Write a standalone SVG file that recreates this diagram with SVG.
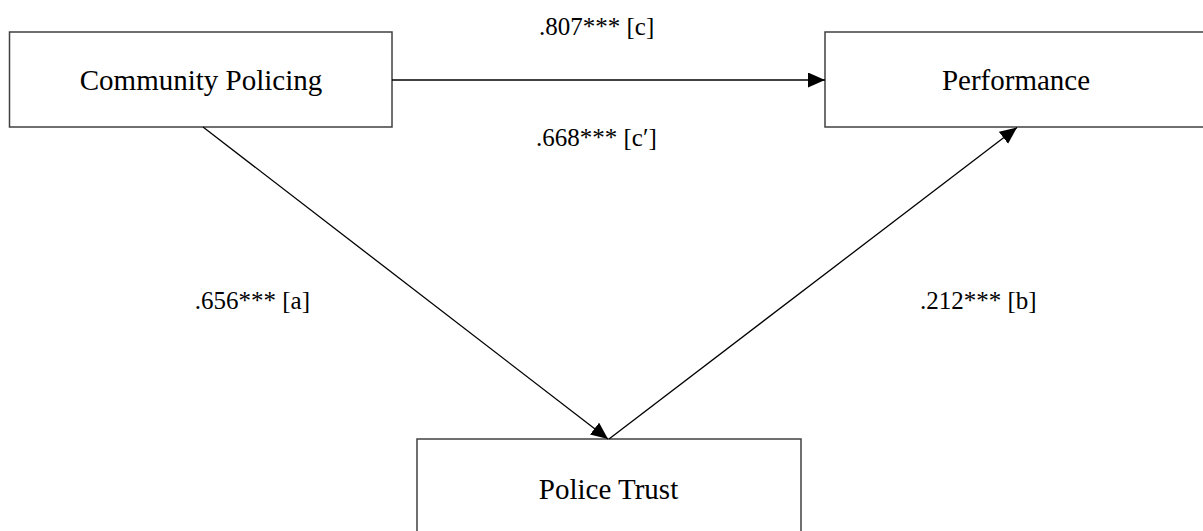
<svg xmlns="http://www.w3.org/2000/svg" width="1203" height="531" viewBox="0 0 1203 531">
<style>
.box{fill:#ffffff;stroke:#404040;stroke-width:1.5}
.lbl{font-family:"Liberation Serif","Times New Roman",serif;font-size:29px;fill:#000;text-anchor:middle}
.coef{font-family:"Liberation Serif","Times New Roman",serif;font-size:25px;fill:#000}
.conn{stroke:#000;stroke-width:1.3;fill:none;marker-end:url(#arr)}
</style>
<defs>
<marker id="arr" markerUnits="userSpaceOnUse" markerWidth="18" markerHeight="16" refX="17" refY="7.5" orient="auto">
<path d="M0,0 L17,7.5 L0,15 Z" fill="#000"/>
</marker>
</defs>
<rect width="1203" height="531" fill="#ffffff"/>
<g id="node-community-policing">
<rect class="box" x="9.5" y="32" width="382.5" height="95"/>
<text class="lbl" x="201" y="90">Community Policing</text>
</g>
<g id="node-performance">
<rect class="box" x="825" y="32" width="390" height="95"/>
<text class="lbl" x="1016" y="90">Performance</text>
</g>
<g id="node-police-trust">
<rect class="box" x="417" y="439" width="384" height="120"/>
<text class="lbl" x="608.5" y="499">Police Trust</text>
</g>
<g id="connectors">
<line class="conn" x1="392" y1="80" x2="825" y2="80"/>
<line class="conn" x1="203" y1="127" x2="608" y2="439"/>
<line class="conn" x1="609" y1="439" x2="1017" y2="127.5"/>
</g>
<g id="labels">
<text class="coef" x="539" y="35">.807*** [c]</text>
<text class="coef" x="536" y="146">.668*** [c′]</text>
<text class="coef" x="310" y="309" text-anchor="end">.656*** [a]</text>
<text class="coef" x="920" y="309">.212*** [b]</text>
</g>
</svg>
